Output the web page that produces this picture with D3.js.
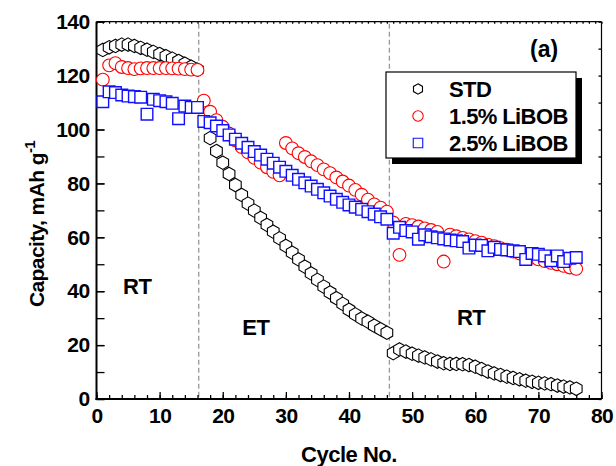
<!DOCTYPE html>
<html>
<head>
<meta charset="utf-8">
<script src="https://cdn.jsdelivr.net/npm/d3@7"></script>
<style>
  html, body { margin: 0; padding: 0; background: #fff; }
  svg { display: block; font-family: "Liberation Sans", Arial, sans-serif; font-weight: bold; }
</style>
</head>
<body>
<svg id="chart" width="616" height="466"></svg>
<script>
// ---------------- data ----------------
const seriesNames = ["STD", "1.5% LiBOB", "2.5% LiBOB"];

const stdCycles = [1,2,3,4,5,6,7,8,9,10,11,12,13,14,15,16,
  18,19,20,21,22,23,24,25,26,27,28,29,30,31,32,33,34,35,36,37,38,39,40,41,42,43,44,45,46,
  47,48,49,50,51,52,53,54,55,56,57,58,59,60,61,62,63,64,65,66,67,68,69,70,71,72,73,74,75,76];
const stdValues = [129.5,130.5,131,131.5,131.5,131,130.3,129.6,128.8,128,127.2,126.3,125.4,124.4,123.3,122.2,
  96.8,92,87.7,83.5,79.4,75.7,72.5,69.9,67.2,64.6,62.1,59.6,56.8,54.3,51.8,49.1,46.6,44.2,41.7,39.5,37.4,35.3,33.1,31.4,29.9,28.7,27.2,25.9,24.6,
  17,18.4,17.6,16.8,16.1,15.4,14.7,13.9,13.3,13.0,13.0,12.9,12.6,12.0,11.1,10.2,9.5,8.9,8.3,7.8,7.3,6.8,6.4,6.0,5.8,5.5,5.0,4.6,4.3,3.8];

const libob15Cycles = [1,2,3,4,5,6,7,8,9,10,11,12,13,14,15,16,
  17,18,19,20,21,22,23,24,25,26,27,28,29,30,31,32,33,34,35,36,37,38,39,40,41,42,43,44,45,46,
  47,48,49,50,51,52,53,54,55,56,57,58,59,60,61,62,63,64,65,66,67,68,69,70,71,72,73,74,75,76];
const libob15Values = [118.5,123.8,124.6,123.2,122.8,122.4,122.7,122.8,122.8,122.8,122.8,122.7,122.6,122.4,122.2,122.1,
  110.7,106.6,103.5,101,98.5,96,93.5,91.5,89.5,87.7,86,84.3,83,95,93,91.2,89.8,88.2,86.8,85.2,83.8,82.2,80.7,79.2,77.6,75.8,74,72.2,71,69.5,
  65.5,53.5,65,64.5,64,63.3,62.7,62,51,61,60.4,59.8,59.2,58.6,58,57.3,56.7,56,55.4,54.7,54,53.2,52.5,51.8,51.2,50.5,50,49.4,48.8,48.3];

const libob25Cycles = libob15Cycles;
const libob25Values = [110.3,114,113.7,112.8,112.4,112.2,112,105.7,111.2,110.7,110.3,109.7,104,108.7,108.2,108.2,
  103,102.5,101.3,99.6,98,96.4,94.9,93.4,91.8,90.5,89,87.5,86,84.5,83,81.5,80.2,79,77.8,76.5,75.3,74.1,73,72,71.2,70.4,69.5,68.6,67.6,66.7,
  61.5,63.7,62.5,62,59.3,60.9,60.2,59.8,59.4,59,58.7,58.4,56,57.1,57,55,56.3,55.5,55.3,55,54.7,51.8,54,53.7,53.1,51.3,53.1,51,52.2,52.5];

const xMajorTicks = [0,10,20,30,40,50,60,70,80];
const yMajorTicks = [0,20,40,60,80,100,120,140];
const phaseBoundaries = [16.2, 46.4];
const phaseLabels = [
  {text: "RT", x: 4.2, y: 39},
  {text: "ET", x: 23.1, y: 23.7},
  {text: "RT", x: 57.1, y: 27.5}
];
const xTitle = "Cycle No.";
const yTitle = "Capacity, mAh g";
const panelTag = "(a)";

// ---------------- layout ----------------
const svg = d3.select("#chart");
const L = 96.5, R = 601.5, T = 21.7, B = 399;
const x = d3.scaleLinear().domain([0, 80]).range([L, R]);
const y = d3.scaleLinear().domain([0, 140]).range([B, T]);

const hexagon = {
  draw(ctx, size) {
    const r = Math.sqrt(size / (1.5 * Math.sqrt(3)));
    for (let k = 0; k < 6; k++) {
      const a = -Math.PI / 2 + k * Math.PI / 3;
      const px = r * Math.cos(a), py = r * Math.sin(a);
      if (k === 0) ctx.moveTo(px, py); else ctx.lineTo(px, py);
    }
    ctx.closePath();
  }
};

// dashed phase lines
svg.append("g").selectAll("line").data(phaseBoundaries).join("line")
  .attr("x1", d => x(d)).attr("x2", d => x(d))
  .attr("y1", T + 2).attr("y2", B)
  .attr("stroke", "#999").attr("stroke-width", 1.3).attr("stroke-dasharray", "5,3");

// axes
function styleAxis(g) {
  g.select(".domain").remove();
  g.selectAll("line").attr("stroke", "#000").attr("stroke-width", 1.3);
  g.selectAll("text").attr("fill", "#000").style("font-size", "21px")
    .style("font-weight", "bold").style("letter-spacing", "-0.6px")
    .style("font-family", '"Liberation Sans", Arial, sans-serif');
}
// bottom minor
svg.append("g").attr("transform", `translate(0,${B})`)
  .call(d3.axisBottom(x).tickValues(d3.range(0, 81, 2)).tickSize(-4).tickFormat(""))
  .call(styleAxis);
// bottom major
svg.append("g").attr("transform", `translate(0,${B})`)
  .call(d3.axisBottom(x).tickValues(xMajorTicks).tickSize(-7).tickPadding(9).tickFormat(d3.format("d")))
  .call(styleAxis);
// top ticks
svg.append("g").attr("transform", `translate(0,${T})`)
  .call(d3.axisTop(x).tickValues(d3.range(0, 81, 1)).tickSize(-2).tickFormat(""))
  .call(styleAxis);
// left minor
svg.append("g").attr("transform", `translate(${L},0)`)
  .call(d3.axisLeft(y).tickValues(d3.range(0, 141, 10)).tickSize(-8).tickFormat(""))
  .call(styleAxis);
// left major
svg.append("g").attr("transform", `translate(${L},0)`)
  .call(d3.axisLeft(y).tickValues(yMajorTicks).tickSize(-8).tickPadding(7).tickFormat(d3.format("d")))
  .call(styleAxis);
// right ticks
svg.append("g").attr("transform", `translate(${R},0)`)
  .call(d3.axisRight(y).tickValues(d3.range(0, 141, 10)).tickSize(-3).tickFormat(""))
  .call(styleAxis);

// frame
svg.append("line").attr("x1", L).attr("x2", R).attr("y1", T).attr("y2", T).attr("stroke", "#000").attr("stroke-width", 1.2);
svg.append("line").attr("x1", R).attr("x2", R).attr("y1", T).attr("y2", B).attr("stroke", "#000").attr("stroke-width", 1.2);
svg.append("line").attr("x1", L).attr("x2", L).attr("y1", T).attr("y2", B + 1).attr("stroke", "#000").attr("stroke-width", 2);
svg.append("line").attr("x1", L - 1).attr("x2", R).attr("y1", B).attr("y2", B).attr("stroke", "#000").attr("stroke-width", 2);

// series
const series = [
  {name: seriesNames[0], cx: stdCycles, vals: stdValues, color: "#000", sym: hexagon, size: 118, sw: 1.1, lsize: 70},
  {name: seriesNames[1], cx: libob15Cycles, vals: libob15Values, color: "#ff0000", sym: d3.symbolCircle, size: 128, sw: 1.1, lsize: 85},
  {name: seriesNames[2], cx: libob25Cycles, vals: libob25Values, color: "#1010ff", sym: d3.symbolSquare, size: 135, sw: 1.4, lsize: 90}
];
series.forEach(s => {
  const pts = s.cx.map((c, i) => ({c, v: s.vals[i]}));
  svg.append("g").selectAll("path").data(pts).join("path")
    .attr("transform", d => `translate(${x(d.c)},${y(d.v)})`)
    .attr("d", d3.symbol().type(s.sym).size(s.size))
    .attr("fill", "#fff").attr("stroke", s.color).attr("stroke-width", s.sw);
});

// phase labels
svg.append("g").selectAll("text").data(phaseLabels).join("text")
  .attr("x", d => x(d.x)).attr("y", d => y(d.y))
  .style("font-size", "22px").style("letter-spacing", "-0.5px").text(d => d.text);

// panel tag
svg.append("text").attr("x", 530).attr("y", 57).style("font-size", "23px").text(panelTag);

// legend
const lg = svg.append("g");
lg.append("rect").attr("x", 392).attr("y", 78).attr("width", 190).attr("height", 86).attr("fill", "#000");
lg.append("rect").attr("x", 386).attr("y", 72).attr("width", 190).attr("height", 86)
  .attr("fill", "#fff").attr("stroke", "#000").attr("stroke-width", 1.2);
series.forEach((s, i) => {
  const cy = 89 + i * 27;
  lg.append("path").attr("transform", `translate(418,${cy})`)
    .attr("d", d3.symbol().type(s.sym).size(s.lsize))
    .attr("fill", "#fff").attr("stroke", s.color).attr("stroke-width", 1.1);
  lg.append("text").attr("x", 449).attr("y", cy).attr("dy", "0.36em")
    .style("font-size", "22px").style("letter-spacing", "-0.6px").text(s.name);
});

// axis titles
svg.append("text").attr("x", (L + R) / 2).attr("y", 462).attr("text-anchor", "middle")
  .style("font-size", "22px").style("letter-spacing", "-0.5px").text(xTitle);
const yt = svg.append("text").attr("transform", "translate(44,224) rotate(-90)")
  .attr("text-anchor", "middle").style("font-size", "21px")
  .style("letter-spacing", "-0.6px");
yt.append("tspan").text(yTitle);
yt.append("tspan").attr("dy", -9).style("font-size", "15px").text("-1");
</script>
</body>
</html>
